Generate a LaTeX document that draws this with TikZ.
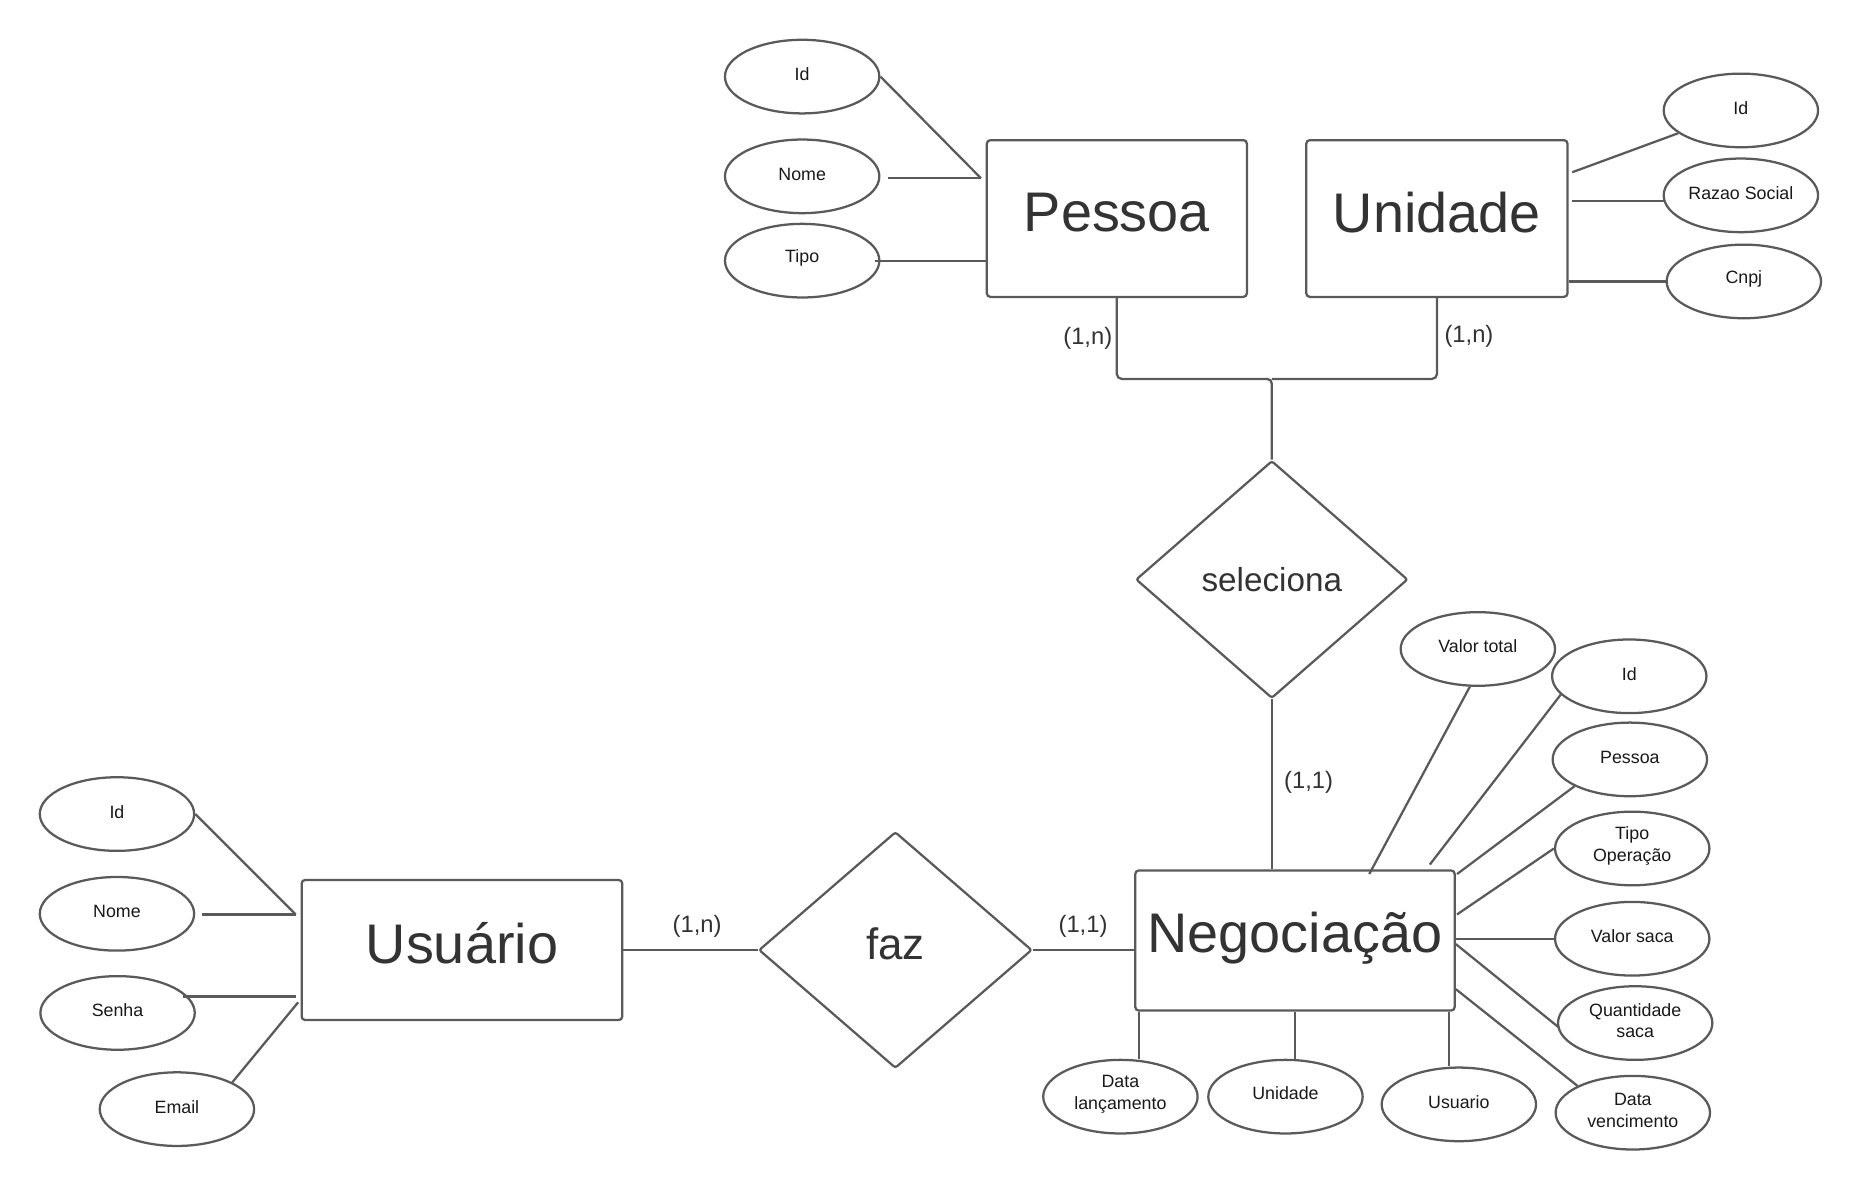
\documentclass[tikz,border=0pt]{standalone}
\usepackage{fontspec}
\setmainfont{Liberation Sans}
\usetikzlibrary{shapes.geometric,calc}
\definecolor{ln}{HTML}{5A5A5A}
\definecolor{tx}{HTML}{333333}
\newcommand{\liftt}[2]{\raisebox{#1}[\height][\depth]{#2}}
\begin{document}
\begin{tikzpicture}[x=1pt,y=-1pt,
  conn/.style={draw=ln,line width=1.9pt},
  ent/.style={draw=ln,line width=1.9pt,rounded corners=3pt,text=tx,font=\fontsize{47}{56}\selectfont,inner sep=0pt},
  rel/.style={diamond,draw=ln,line width=1.9pt,rounded corners=2pt,inner sep=0pt,text=tx},
  attr/.style={ellipse,draw=ln,line width=1.9pt,minimum width=130pt,minimum height=62pt,inner sep=0pt,align=center,font=\fontsize{15}{18}\selectfont,text=black!90},
  card/.style={text=tx,font=\fontsize{20}{24}\selectfont,inner sep=0pt}]

\useasboundingbox[fill=white] (0,0) rectangle (1568,1002);

% entities
\node[ent,minimum width=219pt,minimum height=132pt] (pes) at (940.5,184) {\liftt{5pt}{Pessoa}};
\node[ent,minimum width=220pt,minimum height=132pt] (uni) at (1210,184) {\liftt{5pt}{Unidade}};
\node[ent,minimum width=270pt,minimum height=118pt] (usu) at (389,800) {\liftt{6pt}{Usuário}};
\node[ent,minimum width=269pt,minimum height=118pt] (neg) at (1090.5,792) {\liftt{2pt}{Negociação}};

% relationships
\node[rel,minimum width=229pt,minimum height=200pt,font=\fontsize{28}{34}\selectfont] (sel) at (1071,488) {seleciona};
\node[rel,minimum width=230pt,minimum height=199pt,font=\fontsize{37}{44}\selectfont] (faz) at (754,800) {\liftt{5pt}{faz}};

% attributes
\node[attr] (pid) at (675.5,64.5) {\liftt{2pt}{Id}};
\node[attr] (pnome) at (675.5,148.5) {\liftt{2pt}{Nome}};
\node[attr] (ptipo) at (675.5,219.5) {\liftt{2pt}{Tipo}};
\node[attr] (uid) at (1466,93) {\liftt{2pt}{Id}};
\node[attr] (urs) at (1466,164.5) {\liftt{2pt}{Razao Social}};
\node[attr] (ucn) at (1468.5,237) {\liftt{2pt}{Cnpj}};
\node[attr] (usid) at (98.5,685.5) {\liftt{2pt}{Id}};
\node[attr] (usnome) at (98.5,769.5) {\liftt{2pt}{Nome}};
\node[attr] (ussenha) at (99,853) {\liftt{2pt}{Senha}};
\node[attr] (usemail) at (149,934) {\liftt{2pt}{Email}};
\node[attr] (nvt) at (1244.5,546.5) {\liftt{2pt}{Valor total}};
\node[attr] (nid) at (1372,569.5) {\liftt{2pt}{Id}};
\node[attr] (npes) at (1372.5,639.5) {\liftt{2pt}{Pessoa}};
\node[attr] (ntipo) at (1374.5,714.5) {\liftt{2pt}{Tipo}\\\liftt{2pt}{Operação}};
\node[attr] (nvs) at (1374.5,790.5) {\liftt{2pt}{Valor saca}};
\node[attr] (nqs) at (1377,861.5) {\liftt{2pt}{Quantidade}\\\liftt{2pt}{saca}};
\node[attr] (ndv) at (1375,937) {\liftt{2pt}{Data}\\\liftt{2pt}{vencimento}};
\node[attr] (ndl) at (943.5,923.5) {\liftt{2pt}{Data}\\\liftt{2pt}{lançamento}};
\node[attr] (nun) at (1082.5,923.5) {\liftt{3pt}{Unidade}};
\node[attr] (nus) at (1228.5,930) {\liftt{2pt}{Usuario}};

% cardinalities
\node[card] (c1) at (916,285) {(1,n)};
\node[card] (c2) at (1237,283) {(1,n)};
\node[card] (c3) at (1102,659) {(1,1)};
\node[card] (c4) at (587,780) {(1,n)};
\node[card] (c5) at (912,780) {(1,1)};

% Pessoa / Unidade -> seleciona
\coordinate (jn) at ($(sel.north)+(0,-68)$);
\draw[conn,rounded corners=4pt] (pes.south) |- (jn) -- (sel.north);
\draw[conn,rounded corners=4pt] (uni.south) |- (jn);
\draw[conn] (sel.south) -- (sel.south |- neg.north);
\draw[conn] (usu.east) -- (faz.west);
\draw[conn] (faz.east) -- (faz.east -| neg.west);

% Pessoa attributes
\coordinate (pj) at ($(pes.north west)+(-4,33)$);
\draw[conn] (pid.east) -- (pj);
\draw[conn] ($(pj -| pnome.east)+(6,0)$) -- (pj);
\draw[conn] ($(ptipo.east)+(-5,0)$) -- (ptipo.east -| pes.west);

% Unidade attributes
\draw[conn] ($(uni.north east)+(3,28)$) -- (uid.200);
\coordinate (rj) at ($(uni.north east)+(3,52)$);
\draw[conn] (rj) -- ($(rj -| urs.west)+(1,0)$);
\draw[conn] (ucn.west -| uni.east) -- (ucn.west);

% Usuario attributes
\coordinate (uj) at ($(usu.north west)+(-4,30)$);
\draw[conn] (usid.east) -- (uj);
\draw[conn] ($(uj -| usnome.east)+(6,0)$) -- (uj);
\coordinate (sj) at ($(usu.north west)+(-4,99)$);
\draw[conn] ($(sj -| ussenha.east)+(-11,0)$) -- (sj);
\draw[conn] (usemail.north east) -- ($(usu.north west)+(-2,104)$);

% Negociacao attributes
\draw[conn] (nvt.258) -- ($(neg.north west)+(198,4)$);
\draw[conn] (nid.195) -- ($(neg.north west)+(249,-4)$);
\draw[conn] (npes.south west) -- ($(neg.north east)+(1,4)$);
\draw[conn] (ntipo.west) -- ($(neg.north east)+(1,38)$);
\draw[conn] (nvs.west) -- (nvs.west -| neg.east);
\draw[conn] ($(neg.east)+(0,3)$) -- ($(nqs.west)+(2,4)$);
\draw[conn] ($(neg.south east)+(0,-19)$) -- (ndv.north west);
\coordinate (b1) at ($(neg.south west)+(4,0)$);
\draw[conn] (b1) -- (b1 |- ndl.north);
\draw[conn] (neg.south) -- (neg.south |- nun.north);
\coordinate (b3) at ($(neg.south east)+(-6,0)$);
\draw[conn] (b3) -- (b3 |- nus.north);
\end{tikzpicture}
\end{document}
